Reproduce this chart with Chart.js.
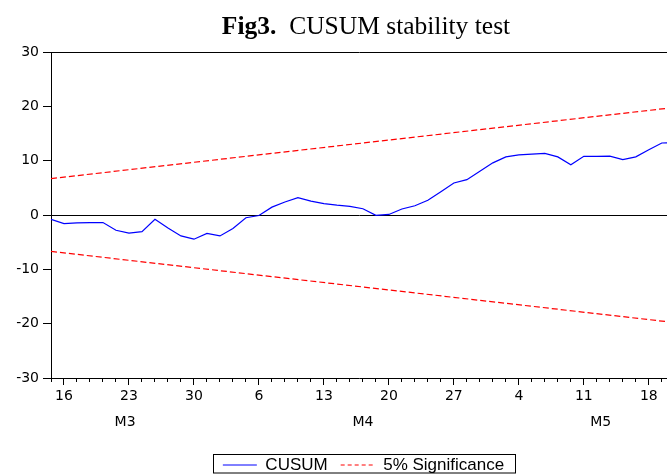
<!DOCTYPE html>
<html><head><meta charset="utf-8">
<script src="https://cdn.jsdelivr.net/npm/chart.js@4.4.1/dist/chart.umd.min.js"></script>
<style>
html,body{margin:0;padding:0;background:#fff;}
#wrap{position:relative;width:667px;height:474px;overflow:hidden;background:#fff;}
#title{position:absolute;top:13px;left:366px;transform:translateX(-50%);white-space:nowrap;font-family:"Liberation Serif","Times New Roman",serif;font-size:25.5px;line-height:1;color:#000;}
canvas{position:absolute;left:0;top:0;}
</style></head><body>
<div id="wrap"><canvas id="c" width="667" height="474" style="width:667px;height:474px"></canvas><div id="title"><b>Fig3.</b>&nbsp; CUSUM stability test</div></div>
<script>
// trading days (index 0 = Mar 13)
const days = ['13','16','17','18','19','20','23','24','25','26','27','30','31','1','2','3','6','7','8','9','10','13','14','15','16','17','20','21','22','23','24','27','28','29','30','1','4','5','6','7','8','11','12','13','14','15','18','19','20'];
const majorTickIdx = [1,6,11,16,21,26,31,36,41,46];
const months = ['M3','M4','M5'];
const monthCenterIdx = [5.7, 24.0, 42.3];
const cusum = [-0.8,-1.6,-1.45,-1.4,-1.4,-2.8,-3.35,-3.05,-0.8,-2.4,-3.85,-4.45,-3.4,-3.85,-2.5,-0.5,-0.1,1.45,2.4,3.2,2.55,2.1,1.8,1.6,1.15,-0.05,0.1,1.1,1.7,2.7,4.3,5.9,6.5,8.05,9.6,10.7,11.05,11.2,11.35,10.7,9.25,10.8,10.8,10.85,10.2,10.7,12.0,13.25,13.3];
const boundIdx = [0, 48];
const upper5 = [6.7, 19.8];
const lower5 = [-6.7, -19.8];
const yTicks = [-30,-20,-10,0,10,20,30];
const xVisibleMax = 47.4;

const tickFont = {family:'DejaVu Sans', size:14};

const legendFrame = {
  id:'legendFrame',
  afterLayout(chart){
    const lg = chart.legend; if(!lg) return;
    const pad = lg.options.labels.padding;
    const fs = lg.options.labels.font.size;
    const dy = 465 - (lg.top + pad + fs/2);
    const dx = 363.5 - (lg.left + lg.right)/2;
    lg.top += dy; lg.bottom += dy; lg.left += dx; lg.right += dx;
  },
  afterDraw(chart){
    const lg = chart.legend; if(!lg || !lg.lineWidths) return;
    const pad = lg.options.labels.padding;
    const fs = lg.options.labels.font.size;
    const lw = lg.lineWidths[0];
    const x0 = (lg.left + pad + lg.right - lw)/2;
    const x1 = x0 + lw - pad;
    const cy = lg.top + pad + fs/2;
    const ctx = chart.ctx;
    ctx.save();
    ctx.strokeStyle = '#000'; ctx.lineWidth = 1; ctx.setLineDash([]);
    const L = Math.round(x0 - 10) + 0.5, R = Math.round(x1 + 11) + 0.5;
    const T = Math.round(cy - 11) + 0.5;
    ctx.strokeRect(L, T, R - L, 473 - T);
    ctx.restore();
  }
};

new Chart(document.getElementById('c'), {
  type:'line',
  data:{
    datasets:[
      {label:'CUSUM', data: cusum.map((v,i)=>({x:i,y:v})), borderColor:'#0000ff', borderWidth:1.2, pointRadius:0, tension:0, fill:false},
      {label:'5% Significance', data: boundIdx.map((x,k)=>({x:x,y:upper5[k]})), borderColor:'#ff0000', borderWidth:1.2, borderDash:[6,3], pointRadius:0, fill:false},
      {label:'lower', data: boundIdx.map((x,k)=>({x:x,y:lower5[k]})), borderColor:'#ff0000', borderWidth:1.2, borderDash:[6,3], pointRadius:0, fill:false}
    ]
  },
  options:{
    responsive:false, animation:false, maintainAspectRatio:false,
    layout:{padding:{top:52,left:0,right:0,bottom:0}},
    plugins:{
      title:{display:false},
      tooltip:{enabled:false},
      legend:{
        display:true, position:'bottom',
        labels:{usePointStyle:true, pointStyle:'line', pointStyleWidth:34, padding:13,
          font:{family:'Liberation Sans', size:17}, color:'#000',
          filter: item => item.datasetIndex < 2,
          generateLabels: chart => Chart.defaults.plugins.legend.labels.generateLabels(chart).map(it => {
            const ds = chart.data.datasets[it.datasetIndex];
            return Object.assign({}, it, {lineDash: ds.borderDash ? [4,3] : [], strokeStyle: ds.borderColor, lineWidth: 1});
          })}
      }
    },
    scales:{
      x:{
        type:'linear', min:0, max:xVisibleMax, position:'bottom', weight:0,
        afterBuildTicks: s => { s.ticks = days.map((d,i)=>({value:i})).filter(t=>t.value<=xVisibleMax); },
        ticks:{autoSkip:false, maxRotation:0, padding:3, font:tickFont, color:'#000',
          callback:(v)=> majorTickIdx.includes(v) ? days[v] : ''},
        grid:{drawOnChartArea:false, drawTicks:true, tickLength:7, color:'#000', tickColor:'#000', tickWidth:1,
          tickBorderDash: ctx => (ctx.tick && majorTickIdx.includes(ctx.tick.value)) ? [] : [3, 50]},
        border:{display:true, color:'#000', width:1},
        afterFit: s => { s.height = 30; }
      },
      x2:{
        type:'linear', min:0, max:xVisibleMax, position:'bottom', weight:1,
        afterBuildTicks: s => { s.ticks = monthCenterIdx.map(v=>({value:v})); },
        ticks:{autoSkip:false, maxRotation:0, padding:6, font:tickFont, color:'#000',
          callback:(v,i)=> months[i]},
        grid:{display:false, drawTicks:false},
        border:{display:false},
        afterFit: s => { s.height = 26; }
      },
      y:{
        min:-30, max:30,
        afterBuildTicks: s => { s.ticks = yTicks.map(v=>({value:v})); },
        ticks:{padding:4, font:tickFont, color:'#000'},
        grid:{color: ctx => (ctx.tick && (ctx.tick.value===0 || ctx.tick.value===30)) ? '#000' : 'rgba(0,0,0,0)',
          tickColor:'#000', tickLength:8, lineWidth:1},
        border:{display:true, color:'#000', width:1},
        afterFit: s => { s.width = 51; }
      }
    }
  },
  plugins:[legendFrame]
});
</script>
</body></html>
